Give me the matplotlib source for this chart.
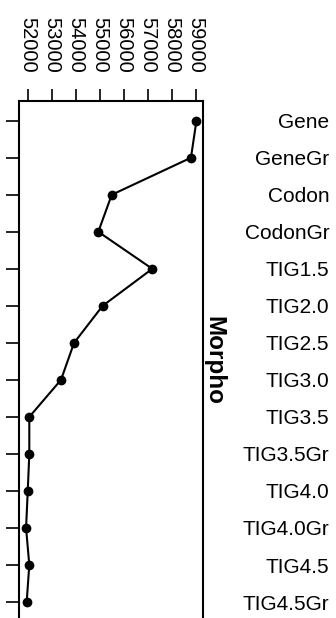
import matplotlib
matplotlib.use("Agg")
import matplotlib.pyplot as plt

categories = ["Gene", "GeneGr", "Codon", "CodonGr", "TIG1.5", "TIG2.0", "TIG2.5",
              "TIG3.0", "TIG3.5", "TIG3.5Gr", "TIG4.0", "TIG4.0Gr", "TIG4.5", "TIG4.5Gr"]
values = [59020, 58790, 55490, 54930, 57180, 55110, 53920,
          53375, 52055, 52055, 51990, 51920, 52055, 51945]
xticks = [52000, 53000, 54000, 55000, 56000, 57000, 58000, 59000]
panel = "Morpho"

plt.rcParams['font.family'] = ['Liberation Sans', 'DejaVu Sans']

fig = plt.figure(figsize=(3.36, 6.18), dpi=100)
ax = fig.add_axes([0.058, -0.0065, 0.5461, 0.8435])

pos = list(range(len(categories)))
ax.plot(values, pos, color='black', lw=1.5)
ax.plot(values, pos, 'o', color='black', markersize=6)

ax.set_xlim(51646, 59292)
ax.set_ylim(13.54, -0.54)

ax.xaxis.tick_top()
ax.set_xticks(xticks)
ax.set_xticklabels([str(v) for v in xticks], rotation=-90, fontsize=14.5)
ax.tick_params(axis='x', direction='out', length=9, width=1.2, pad=11)

ax.set_yticks(pos)
ax.set_yticklabels(categories, fontsize=15, ha='right')
# labels sit on the right without ticks, ticks on the left without labels
ax.tick_params(axis='y', left=True, labelleft=False, right=False, labelright=True,
               direction='out', length=9.5, width=1.2, pad=81.5)

for s in ax.spines.values():
    s.set_linewidth(1.5)

fig.text(214 / 336, 1 - 360 / 618, panel, rotation=-90, fontsize=17.5,
         fontweight='bold', ha='center', va='center')

fig.savefig("out.png", dpi=100)
